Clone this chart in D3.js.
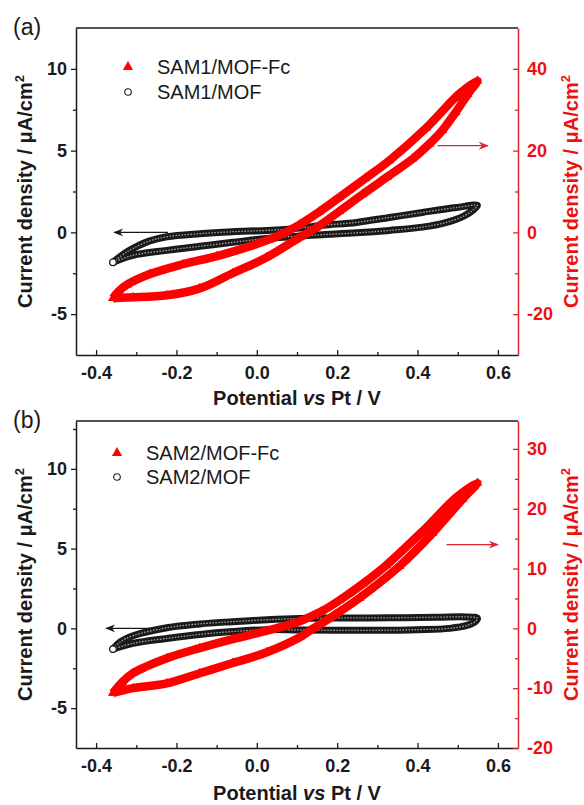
<!DOCTYPE html>
<html>
<head>
<meta charset="utf-8">
<script src="https://cdn.jsdelivr.net/npm/d3@7"></script>
<style>
body { margin: 0; background: #fff; }
svg text { font-family: "Liberation Sans", Arial, sans-serif; }
</style>
</head>
<body>
<svg id="chart" width="584" height="805"></svg>
<script>
(function() {

// CV loops: [potential (V), current density (uA/cm2)]
// red series read on the right axis, black on the left axis
const sam1FcLoop = [
  [-0.358,-16.1],[-0.34,-16.0],[-0.308,-15.9],[-0.224,-15.4],[-0.142,-13.7],[-0.06,-10.0],
  [0.025,-6.1],[0.107,-1.2],[0.149,1.2],[0.206,5.2],[0.263,9.3],[0.325,13.6],[0.388,18.0],
  [0.43,21.7],[0.462,25.0],[0.495,29.4],[0.525,33.8],[0.549,37.1],
  [0.504,33.9],[0.422,25.6],[0.33,17.6],[0.27,13.2],[0.206,8.6],[0.155,5.0],[0.107,1.9],
  [0.05,-1.0],[-0.017,-3.4],[-0.099,-5.8],[-0.184,-7.8],[-0.266,-10.2],[-0.323,-12.8],
  [-0.345,-14.5],[-0.358,-16.1]
];
const sam1Loop = [
  [-0.358,-1.83],[-0.308,-1.40],[-0.224,-1.10],[-0.142,-0.85],[-0.06,-0.61],[0.025,-0.37],
  [0.107,-0.22],[0.164,-0.14],[0.248,-0.03],[0.33,0.12],[0.412,0.32],[0.47,0.6],[0.515,1.0],
  [0.54,1.4],[0.549,1.65],
  [0.497,1.52],[0.412,1.22],[0.33,0.91],[0.248,0.61],[0.164,0.43],[0.107,0.26],[0.025,0.12],
  [-0.06,0.04],[-0.142,-0.08],[-0.224,-0.27],[-0.27,-0.55],[-0.308,-0.98],[-0.33,-1.3],[-0.358,-1.83]
];
const sam2FcLoop = [
  [-0.358,-10.8],[-0.308,-10.0],[-0.224,-9.2],[-0.142,-7.5],[-0.06,-5.8],[0.025,-4.0],
  [0.107,-1.5],[0.132,-0.4],[0.195,2.3],[0.256,5.1],[0.355,10.4],[0.437,15.9],[0.512,21.6],
  [0.549,24.3],
  [0.497,21.9],[0.412,16.2],[0.323,10.6],[0.265,7.5],[0.206,4.7],[0.16,2.8],[0.107,1.2],
  [0.025,-0.4],[-0.06,-1.8],[-0.142,-3.3],[-0.224,-5.0],[-0.308,-7.5],[-0.335,-9.0],[-0.358,-10.8]
];
const sam2Loop = [
  [-0.358,-1.3],[-0.308,-0.94],[-0.224,-0.63],[-0.142,-0.38],[-0.06,-0.2],[0.025,-0.08],
  [0.107,-0.1],[0.2,-0.12],[0.3,-0.12],[0.4,-0.08],[0.48,0.0],[0.525,0.2],[0.545,0.45],[0.549,0.63],
  [0.52,0.72],[0.45,0.7],[0.33,0.66],[0.2,0.65],[0.107,0.62],[0.025,0.54],[-0.06,0.42],
  [-0.142,0.28],[-0.224,0.04],[-0.308,-0.46],[-0.34,-0.85],[-0.358,-1.3]
];

const xMajor = [-0.4, -0.2, 0.0, 0.2, 0.4, 0.6];
const xMinor = [-0.3, -0.1, 0.1, 0.3, 0.5];
const leftMajor = [-5, 0, 5, 10];
const leftMinor = [-2.5, 2.5, 7.5, 12.5];
const rightMajorA = [-20, 0, 20, 40];
const rightMinorA = [-10, 10, 30];
const rightMajorB = [-20, -10, 0, 10, 20, 30];
const rightMinorB = [-15, -5, 5, 15, 25];
const legendA = ["SAM1/MOF-Fc", "SAM1/MOF"];
const legendB = ["SAM2/MOF-Fc", "SAM2/MOF"];
const arrowsA = [{axis: "left", from: -0.221, to: -0.355, y: 0}, {axis: "right", from: 0.45, to: 0.575, y: 21.2}];
const arrowsB = [{axis: "left", from: -0.241, to: -0.375, y: 0}, {axis: "right", from: 0.472, to: 0.6, y: 14}];

const red = "#ff0000";
const axisRed = "#e0262b";
const ink = "#1a1a1a";
const left = 76, right = 518;

const svg = d3.select("#chart");

const x = d3.scaleLinear().domain([-0.45, 0.65]).range([left, right]);

const defs = svg.append("defs");
[["left", ink], ["right", axisRed]].forEach(([k, c]) => {
  defs.append("marker")
      .attr("id", "head-" + k)
      .attr("viewBox", "0 -5 10 10")
      .attr("refX", 9).attr("refY", 0)
      .attr("markerWidth", 10).attr("markerHeight", 10)
      .attr("markerUnits", "userSpaceOnUse")
      .attr("orient", "auto")
    .append("path")
      .attr("d", "M0,-4L10,0L0,4L3,0Z")
      .attr("fill", c);
});

const panels = [
  {tag: "(a)", tagY: 35, top: 28, bottom: 355, yLeft: [-7.5, 12.5], yRight: [-30, 50],
   rightMajor: rightMajorA, rightMinor: rightMinorA, fc: sam1FcLoop, bare: sam1Loop,
   names: legendA, legend: {x: 128, y: 67, dy: 25}, arrows: arrowsA, xLabelY: 405},
  {tag: "(b)", tagY: 428, top: 421, bottom: 748, yLeft: [-7.5, 13], yRight: [-20, 34.667],
   rightMajor: rightMajorB, rightMinor: rightMinorB, fc: sam2FcLoop, bare: sam2Loop,
   names: legendB, legend: {x: 117, y: 453, dy: 24}, arrows: arrowsB, xLabelY: 800}
];

panels.forEach(drawPanel);

function styleAxis(g, color) {
  g.attr("font-family", null).attr("font-size", 18).attr("font-weight", "bold");
  g.selectAll("text").attr("fill", color);
  g.selectAll("line").attr("stroke", color).attr("stroke-width", 1.3);
  g.selectAll(".domain").attr("stroke", color).attr("stroke-width", 1.5);
}

function drawPanel(p) {
  const g = svg.append("g");
  const yL = d3.scaleLinear().domain(p.yLeft).range([p.bottom, p.top]);
  const yR = d3.scaleLinear().domain(p.yRight).range([p.bottom, p.top]);
  const line = yScale => d3.line()
      .x(d => x(d[0]))
      .y(d => yScale(d[1]))
      .curve(d3.curveCatmullRom.alpha(0.5));

  // black loop (open circles, drawn as a dense band)
  g.append("path").datum(p.bare)
      .attr("d", line(yL))
      .attr("fill", "none")
      .attr("stroke", ink)
      .attr("stroke-width", 7)
      .attr("stroke-linejoin", "round")
      .attr("stroke-linecap", "round");
  g.append("path").datum(p.bare)
      .attr("d", line(yL))
      .attr("fill", "none")
      .attr("stroke", "#a8a8a8")
      .attr("stroke-width", 1.3)
      .attr("stroke-dasharray", "1.5 1.5");
  g.append("circle")
      .attr("cx", x(p.bare[0][0]))
      .attr("cy", yL(p.bare[0][1]))
      .attr("r", 3.3)
      .attr("fill", "#fff")
      .attr("stroke", ink)
      .attr("stroke-width", 1.2);

  // red loop (triangles)
  g.append("path").datum(p.fc)
      .attr("d", line(yR))
      .attr("fill", "none")
      .attr("stroke", red)
      .attr("stroke-width", 8.5)
      .attr("stroke-linejoin", "round");
  g.selectAll(".tri")
    .data(p.fc)
    .join("path")
      .attr("class", "tri")
      .attr("transform", d => `translate(${x(d[0])},${yR(d[1])})`)
      .attr("d", d3.symbol(d3.symbolTriangle, 40))
      .attr("fill", red);

  // axes
  const gx = g.append("g")
      .attr("transform", `translate(0,${p.bottom})`)
      .call(d3.axisBottom(x).tickValues(xMajor).tickFormat(d => d.toFixed(1))
        .tickSizeInner(-5).tickSizeOuter(0).tickPadding(11));
  styleAxis(gx, ink);
  const gxm = g.append("g")
      .attr("transform", `translate(0,${p.bottom})`)
      .call(d3.axisBottom(x).tickValues(xMinor).tickFormat("").tickSizeInner(-3).tickSizeOuter(0));
  gxm.select(".domain").remove();
  styleAxis(gxm, ink);

  const gl = g.append("g")
      .attr("transform", `translate(${left},0)`)
      .call(d3.axisLeft(yL).tickValues(leftMajor).tickFormat(d => String(d))
        .tickSizeInner(5).tickSizeOuter(0).tickPadding(4));
  styleAxis(gl, ink);
  const glm = g.append("g")
      .attr("transform", `translate(${left},0)`)
      .call(d3.axisLeft(yL).tickValues(leftMinor.filter(v => v < p.yLeft[1])).tickFormat("")
        .tickSizeInner(3).tickSizeOuter(0));
  glm.select(".domain").remove();
  styleAxis(glm, ink);

  g.append("line")
      .attr("x1", left).attr("x2", right)
      .attr("y1", p.top).attr("y2", p.top)
      .attr("stroke", ink)
      .attr("stroke-width", 1.5);

  const gr = g.append("g")
      .attr("transform", `translate(${right},0)`)
      .call(d3.axisRight(yR).tickValues(p.rightMajor).tickFormat(d => String(d))
        .tickSizeInner(-5).tickSizeOuter(0).tickPadding(9));
  styleAxis(gr, axisRed);
  gr.selectAll("text").attr("fill", "#ee1111");
  const grm = g.append("g")
      .attr("transform", `translate(${right},0)`)
      .call(d3.axisRight(yR).tickValues(p.rightMinor).tickFormat("").tickSizeInner(-3).tickSizeOuter(0));
  grm.select(".domain").remove();
  styleAxis(grm, axisRed);

  // axis titles
  const yMid = (p.top + p.bottom) / 2;
  const yTitle = t => {
    t.append("tspan").text("Current density / μA/cm");
    t.append("tspan").attr("dy", -8).attr("font-size", 13).text("2");
  };
  g.append("text")
      .attr("transform", `translate(32,${yMid}) rotate(-90)`)
      .attr("text-anchor", "middle")
      .attr("font-size", 20)
      .attr("font-weight", "bold")
      .attr("fill", ink)
      .call(yTitle);
  g.append("text")
      .attr("transform", `translate(578,${yMid}) rotate(-90)`)
      .attr("text-anchor", "middle")
      .attr("font-size", 20)
      .attr("font-weight", "bold")
      .attr("fill", "#ee1111")
      .call(yTitle);

  const xt = g.append("text")
      .attr("x", (left + right) / 2)
      .attr("y", p.xLabelY)
      .attr("text-anchor", "middle")
      .attr("font-size", 20)
      .attr("font-weight", "bold")
      .attr("fill", ink);
  xt.append("tspan").text("Potential ");
  xt.append("tspan").attr("font-style", "italic").text("vs");
  xt.append("tspan").text(" Pt / V");

  g.append("text")
      .attr("x", 13)
      .attr("y", p.tagY)
      .attr("font-size", 23)
      .attr("fill", ink)
      .text(p.tag);

  // legend
  const lg = g.append("g")
      .attr("transform", `translate(${p.legend.x},${p.legend.y})`);
  lg.append("path")
      .attr("d", d3.symbol(d3.symbolTriangle, 45))
      .attr("fill", red);
  lg.append("circle")
      .attr("cy", p.legend.dy)
      .attr("r", 3.3)
      .attr("fill", "#fff")
      .attr("stroke", ink)
      .attr("stroke-width", 1.1);
  lg.selectAll("text")
    .data(p.names)
    .join("text")
      .attr("x", 29)
      .attr("y", (d, i) => i * p.legend.dy + 7)
      .attr("font-size", 20)
      .attr("fill", ink)
      .text(d => d);

  // direction arrows
  const yOf = d => (d.axis === "left" ? yL : yR)(d.y);
  g.selectAll(".arrow")
    .data(p.arrows)
    .join("line")
      .attr("class", "arrow")
      .attr("x1", d => x(d.from))
      .attr("x2", d => x(d.to))
      .attr("y1", yOf)
      .attr("y2", yOf)
      .attr("stroke", d => d.axis === "left" ? ink : axisRed)
      .attr("stroke-width", 1.3)
      .attr("marker-end", d => `url(#head-${d.axis})`);
}

})();
</script>
</body>
</html>
